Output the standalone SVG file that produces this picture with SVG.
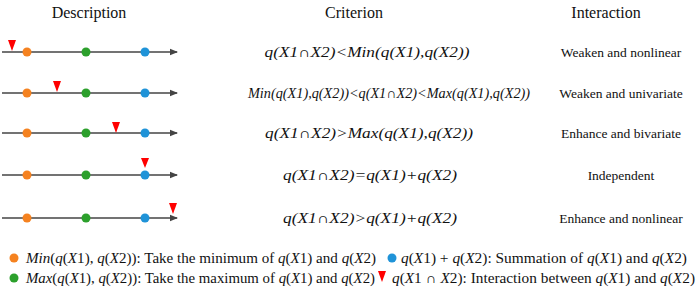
<svg xmlns="http://www.w3.org/2000/svg" width="699" height="290" viewBox="0 0 699 290">
<defs>
<marker id="ah" markerWidth="8" markerHeight="8" refX="7" refY="4" orient="auto" markerUnits="userSpaceOnUse">
<path d="M0,0.8 L8,4 L0,7.2 Z" fill="#444"/>
</marker>
</defs>
<rect width="699" height="290" fill="#fff"/>
<g id="headers" font-family="'Times New Roman', 'Liberation Serif', serif" font-size="16" fill="#111" text-anchor="middle">
<text x="89" y="18" font-family="'Times New Roman', 'Liberation Serif', serif">Description</text>
<text x="354" y="18" font-family="'Times New Roman', 'Liberation Serif', serif">Criterion</text>
<text x="606" y="18" font-family="'Times New Roman', 'Liberation Serif', serif">Interaction</text>
</g>
<g id="connectors" stroke="#444" stroke-width="1.6">
<line x1="2" y1="52" x2="177" y2="52" marker-end="url(#ah)"/>
<line x1="2" y1="93" x2="177" y2="93" marker-end="url(#ah)"/>
<line x1="2" y1="133" x2="177" y2="133" marker-end="url(#ah)"/>
<line x1="2" y1="175" x2="177" y2="175" marker-end="url(#ah)"/>
<line x1="2" y1="218" x2="177" y2="218" marker-end="url(#ah)"/>
</g>
<g id="row1" font-family="'Times New Roman', 'Liberation Serif', serif">
<circle fill="#f58220" cx="27" cy="52" r="4.5"/><circle fill="#2ca02c" cx="86" cy="52" r="4.5"/><circle fill="#1f93d8" cx="145" cy="52" r="4.5"/>
<path fill="#ff0000" d="M8,40 L16,40 L12,51 Z"/>
<text x="367" y="57" font-family="'Times New Roman', 'Liberation Serif', serif" font-size="14" font-style="italic" fill="#111" text-anchor="middle" textLength="205" lengthAdjust="spacingAndGlyphs">q(X1∩X2)&lt;Min(q(X1),q(X2))</text>
<text x="621" y="57" font-family="'Times New Roman', 'Liberation Serif', serif" font-size="13.5" fill="#111" text-anchor="middle">Weaken and nonlinear</text>
</g>
<g id="row2" font-family="'Times New Roman', 'Liberation Serif', serif">
<circle fill="#f58220" cx="27" cy="93" r="4.5"/><circle fill="#2ca02c" cx="86" cy="93" r="4.5"/><circle fill="#1f93d8" cx="145" cy="93" r="4.5"/>
<path fill="#ff0000" d="M53,81 L61,81 L57,92 Z"/>
<text x="389" y="98" font-family="'Times New Roman', 'Liberation Serif', serif" font-size="14" font-style="italic" fill="#111" text-anchor="middle" textLength="282" lengthAdjust="spacingAndGlyphs">Min(q(X1),q(X2))&lt;q(X1∩X2)&lt;Max(q(X1),q(X2))</text>
<text x="621" y="98" font-family="'Times New Roman', 'Liberation Serif', serif" font-size="13.5" fill="#111" text-anchor="middle">Weaken and univariate</text>
</g>
<g id="row3" font-family="'Times New Roman', 'Liberation Serif', serif">
<circle fill="#f58220" cx="27" cy="133" r="4.5"/><circle fill="#2ca02c" cx="86" cy="133" r="4.5"/><circle fill="#1f93d8" cx="145" cy="133" r="4.5"/>
<path fill="#ff0000" d="M112,122 L120,122 L116,133 Z"/>
<text x="369" y="138" font-family="'Times New Roman', 'Liberation Serif', serif" font-size="14" font-style="italic" fill="#111" text-anchor="middle" textLength="208" lengthAdjust="spacingAndGlyphs">q(X1∩X2)&gt;Max(q(X1),q(X2))</text>
<text x="621" y="138" font-family="'Times New Roman', 'Liberation Serif', serif" font-size="13.5" fill="#111" text-anchor="middle">Enhance and bivariate</text>
</g>
<g id="row4" font-family="'Times New Roman', 'Liberation Serif', serif">
<circle fill="#f58220" cx="27" cy="175" r="4.5"/><circle fill="#2ca02c" cx="86" cy="175" r="4.5"/><circle fill="#1f93d8" cx="145" cy="175" r="4.5"/>
<path fill="#ff0000" d="M141,158 L149,158 L145,168 Z"/>
<text x="370" y="180" font-family="'Times New Roman', 'Liberation Serif', serif" font-size="14" font-style="italic" fill="#111" text-anchor="middle" textLength="174" lengthAdjust="spacingAndGlyphs">q(X1∩X2)=q(X1)+q(X2)</text>
<text x="621" y="180" font-family="'Times New Roman', 'Liberation Serif', serif" font-size="13.5" fill="#111" text-anchor="middle">Independent</text>
</g>
<g id="row5" font-family="'Times New Roman', 'Liberation Serif', serif">
<circle fill="#f58220" cx="27" cy="218" r="4.5"/><circle fill="#2ca02c" cx="86" cy="218" r="4.5"/><circle fill="#1f93d8" cx="145" cy="218" r="4.5"/>
<path fill="#ff0000" d="M169,203 L177,203 L173,214 Z"/>
<text x="370" y="223" font-family="'Times New Roman', 'Liberation Serif', serif" font-size="14" font-style="italic" fill="#111" text-anchor="middle" textLength="174" lengthAdjust="spacingAndGlyphs">q(X1∩X2)&gt;q(X1)+q(X2)</text>
<text x="621" y="223" font-family="'Times New Roman', 'Liberation Serif', serif" font-size="13.5" fill="#111" text-anchor="middle">Enhance and nonlinear</text>
</g>
<g id="legend" font-family="'Times New Roman', 'Liberation Serif', serif" font-size="14" fill="#111">
<circle fill="#f58220" cx="14" cy="258" r="4.5"/>
<text x="26" y="263" font-family="'Times New Roman', 'Liberation Serif', serif" textLength="350" lengthAdjust="spacingAndGlyphs"><tspan font-style="italic">Min</tspan>(<tspan font-style="italic">q</tspan>(<tspan font-style="italic">X</tspan>1), <tspan font-style="italic">q</tspan>(<tspan font-style="italic">X</tspan>2)): Take the minimum of <tspan font-style="italic">q</tspan>(<tspan font-style="italic">X</tspan>1) and <tspan font-style="italic">q</tspan>(<tspan font-style="italic">X</tspan>2)</text>
<circle fill="#2ca02c" cx="14" cy="278" r="4.5"/>
<text x="26" y="283" font-family="'Times New Roman', 'Liberation Serif', serif" textLength="349" lengthAdjust="spacingAndGlyphs"><tspan font-style="italic">Max</tspan>(<tspan font-style="italic">q</tspan>(<tspan font-style="italic">X</tspan>1), <tspan font-style="italic">q</tspan>(<tspan font-style="italic">X</tspan>2)): Take the maximum of <tspan font-style="italic">q</tspan>(<tspan font-style="italic">X</tspan>1) and <tspan font-style="italic">q</tspan>(<tspan font-style="italic">X</tspan>2)</text>
<circle fill="#1f93d8" cx="392" cy="258" r="4.5"/>
<text x="401" y="263" font-family="'Times New Roman', 'Liberation Serif', serif" textLength="286" lengthAdjust="spacingAndGlyphs"><tspan font-style="italic">q</tspan>(<tspan font-style="italic">X</tspan>1) + <tspan font-style="italic">q</tspan>(<tspan font-style="italic">X</tspan>2): Summation of <tspan font-style="italic">q</tspan>(<tspan font-style="italic">X</tspan>1) and <tspan font-style="italic">q</tspan>(<tspan font-style="italic">X</tspan>2)</text>
<path fill="#ff0000" d="M378,271 L386,271 L382,282 Z"/>
<text x="392" y="283" font-family="'Times New Roman', 'Liberation Serif', serif" textLength="303" lengthAdjust="spacingAndGlyphs"><tspan font-style="italic">q</tspan>(<tspan font-style="italic">X</tspan>1 ∩ <tspan font-style="italic">X</tspan>2): Interaction between <tspan font-style="italic">q</tspan>(<tspan font-style="italic">X</tspan>1) and <tspan font-style="italic">q</tspan>(<tspan font-style="italic">X</tspan>2)</text>
</g>
</svg>
